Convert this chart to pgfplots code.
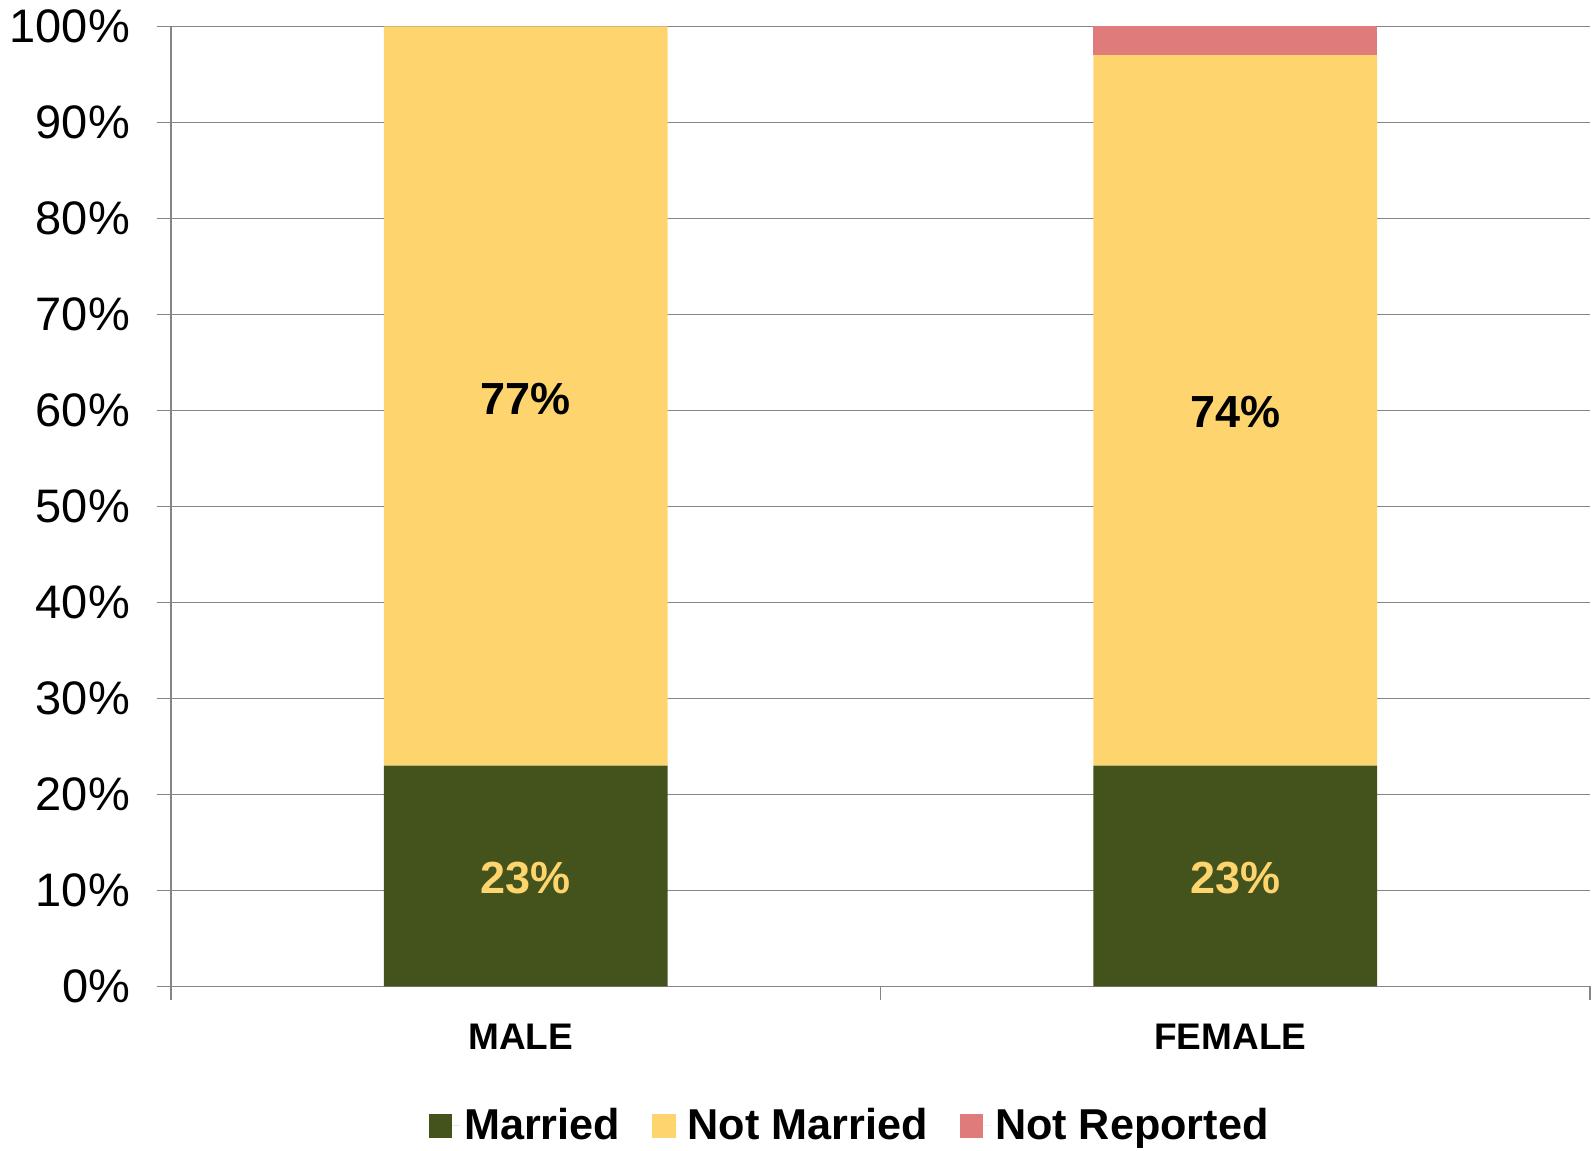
\documentclass[border=0pt]{standalone}
\usepackage{pgfplots}
\pgfplotsset{compat=1.18}
\usepackage{fontspec}
\setmainfont{Liberation Sans}
\definecolor{married}{HTML}{43531B}
\definecolor{notmarried}{HTML}{FED46E}
\definecolor{notrep}{HTML}{E07B7B}
\definecolor{gridgray}{HTML}{858585}

\begin{document}
\begin{tikzpicture}
\begin{axis}[
  at={(0,0)}, anchor=south west,
  scale only axis, width=709.5pt, height=480pt,
  ybar stacked, bar width=0.4,
  xmin=-0.5, xmax=1.5, ymin=0, ymax=100,
  axis x line=bottom, axis y line=left,
  axis line style={draw=gridgray, line width=0.8pt, -},
  xtick={-0.5,0.5,1.5}, xticklabels={},
  extra x ticks={0,1}, extra x tick labels={MALE,FEMALE},
  extra x tick style={tick style={draw=none},
    xticklabel style={font=\fontsize{18.5}{20}\selectfont\bfseries, yshift=-8.5pt, xshift=-2.5pt}},
  ytick={0,10,...,100},
  yticklabel={\pgfmathprintnumber{\tick}\%},
  /pgf/number format/assume math mode=true,
  xtick align=outside, ytick align=outside, major tick length=7pt,
  tick style={draw=gridgray, line width=0.8pt},
  ymajorgrids, grid style={draw=gridgray, line width=0.8pt},
  yticklabel style={font=\fontsize{23.5}{25}\selectfont, xshift=-10pt},
  legend style={draw=none, at={(0.479,-0.145)}, anchor=center,
    font=\fontsize{21.6}{24}\selectfont\bfseries, legend columns=-1,
    /tikz/every even column/.append style={column sep=14pt},
    inner sep=0pt},
  legend image code/.code={\fill[#1] (0pt,-6pt) rectangle (11.7pt,5.7pt);
    \path (11.7pt,0pt) -- (15.7pt,0pt);},
]
\addplot[fill=married, draw=none] coordinates {(0,23) (1,23)};
\addplot[fill=notmarried, draw=none] coordinates {(0,77) (1,74)};
\addplot[fill=notrep, draw=none] coordinates {(0,0) (1,3)};
\legend{Married, Not Married, Not Reported}
\end{axis}
% value labels: midpoints of the segments
\begin{axis}[
  at={(0,0)}, anchor=south west,
  scale only axis, width=709.5pt, height=480pt,
  xmin=-0.5, xmax=1.5, ymin=0, ymax=100, hide axis,
  nodes near coords, point meta=explicit symbolic,
  every node near coord/.append style={anchor=center, font=\fontsize{22.5}{24}\selectfont\bfseries},
]
\addplot[only marks, mark=none, nodes near coords style={text=notmarried}]
  coordinates {(0,11.3)[23\%] (1,11.3)[23\%]};
\addplot[only marks, mark=none, nodes near coords style={text=black}]
  coordinates {(0,61.2)[77\%] (1,59.8)[74\%]};
\end{axis}
\pgfresetboundingbox
\path[use as bounding box] (-85.5pt,-81.8pt) rectangle (711pt,493.2pt);
\end{tikzpicture}
\end{document}
